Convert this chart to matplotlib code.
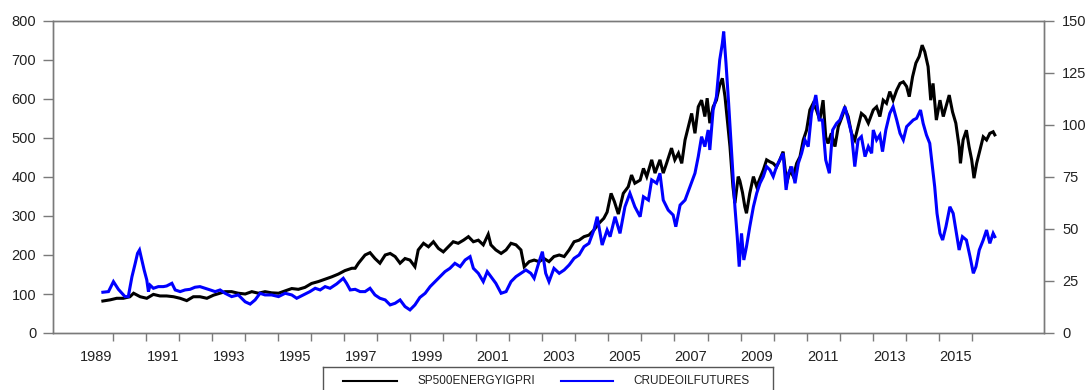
import matplotlib.pyplot as plt
import numpy as np

plt.rcParams['font.family'] = ['Liberation Sans', 'DejaVu Sans']

# S&P 500 Energy price index (left axis)
energy_t = [1989.69, 1989.91, 1990.11, 1990.31, 1990.51, 1990.62, 1990.82, 1991.02, 1991.22, 1991.42,
            1991.62, 1991.83, 1992.03, 1992.23, 1992.43, 1992.63, 1992.84, 1993.04, 1993.24, 1993.39,
            1993.59, 1993.79, 1994.00, 1994.20, 1994.40, 1994.60, 1994.80, 1995.01, 1995.21, 1995.41,
            1995.61, 1995.81, 1996.01, 1996.22, 1996.42, 1996.62, 1996.82, 1997.02, 1997.23, 1997.33,
            1997.43, 1997.63, 1997.78, 1997.93, 1998.08, 1998.24, 1998.39, 1998.54, 1998.69, 1998.84,
            1998.99, 1999.14, 1999.24, 1999.40, 1999.55, 1999.70, 1999.85, 2000.00, 2000.15, 2000.30,
            2000.45, 2000.61, 2000.76, 2000.91, 2001.06, 2001.21, 2001.36, 2001.44, 2001.59, 2001.75,
            2001.90, 2002.05, 2002.20, 2002.35, 2002.45, 2002.60, 2002.75, 2002.90, 2003.05, 2003.20,
            2003.35, 2003.51, 2003.66, 2003.81, 2003.96, 2004.11, 2004.26, 2004.41, 2004.56, 2004.71,
            2004.86, 2004.96, 2005.08, 2005.18, 2005.30, 2005.45, 2005.60, 2005.70, 2005.80, 2005.96,
            2006.06, 2006.16, 2006.31, 2006.41, 2006.56, 2006.66, 2006.76, 2006.91, 2007.01, 2007.12,
            2007.22, 2007.32, 2007.42, 2007.52, 2007.62, 2007.72, 2007.82, 2007.92, 2007.99, 2008.07,
            2008.17, 2008.27, 2008.37, 2008.45, 2008.53, 2008.61, 2008.68, 2008.77, 2008.83, 2008.93,
            2008.98, 2009.06, 2009.13, 2009.18, 2009.28, 2009.39, 2009.49, 2009.59, 2009.69, 2009.79,
            2009.89, 2009.99, 2010.09, 2010.19, 2010.29, 2010.40, 2010.50, 2010.60, 2010.70, 2010.80,
            2010.90, 2011.00, 2011.10, 2011.20, 2011.30, 2011.40, 2011.50, 2011.58, 2011.65, 2011.75,
            2011.86, 2011.96, 2012.06, 2012.16, 2012.26, 2012.36, 2012.46, 2012.56, 2012.66, 2012.77,
            2012.87, 2013.02, 2013.12, 2013.22, 2013.32, 2013.42, 2013.52, 2013.62, 2013.73, 2013.83,
            2013.93, 2014.03, 2014.11, 2014.21, 2014.31, 2014.41, 2014.50, 2014.58, 2014.68, 2014.76,
            2014.83, 2014.93, 2015.04, 2015.14, 2015.22, 2015.32, 2015.42, 2015.52, 2015.62, 2015.66,
            2015.74, 2015.84, 2015.92, 2016.00, 2016.07, 2016.15, 2016.25, 2016.35, 2016.45, 2016.55,
            2016.65, 2016.70]
energy = [82, 85, 89, 89, 93, 102, 93, 89, 99, 95,
          95, 93, 89, 83, 93, 93, 89, 97, 102, 106,
          106, 102, 100, 106, 102, 106, 103, 102, 108, 114,
          112, 117, 127, 132, 138, 144, 151, 160, 166, 166,
          179, 200, 206, 191, 179, 200, 204, 196, 179, 191,
          187, 170, 213, 230, 221, 234, 217, 208, 221, 234,
          230, 238, 247, 234, 238, 226, 253, 226, 213, 204,
          213, 230, 226, 213, 170, 183, 187, 183, 191, 183,
          196, 200, 196, 213, 234, 238, 247, 251, 264, 281,
          294, 310, 358, 337, 305, 358, 375, 405, 384, 392,
          422, 401, 444, 410, 444, 410, 435, 474, 444, 461,
          435, 495, 529, 563, 512, 580, 597, 555, 602, 538,
          580, 597, 636, 653, 606, 538, 478, 375, 333, 401,
          390, 360, 324, 307, 358, 401, 375, 397, 418, 444,
          439, 435, 426, 444, 465, 384, 418, 401, 435, 452,
          495, 520, 572, 589, 572, 546, 597, 503, 486, 512,
          478, 529, 551, 576, 555, 512, 495, 529, 563, 555,
          538, 572, 580, 555, 597, 589, 619, 597, 623, 640,
          644, 632, 606, 657, 692, 709, 738, 721, 683, 597,
          640, 546, 597, 555, 580, 610, 567, 538, 478, 435,
          495, 520, 478, 444, 397, 435, 469, 503, 495, 512,
          516, 508]

# crude oil futures price (right axis)
crude_t = [1989.69, 1989.86, 1990.01, 1990.16, 1990.36, 1990.46, 1990.57, 1990.67, 1990.74, 1990.80,
           1990.87, 1990.94, 1991.02, 1991.07, 1991.12, 1991.22, 1991.37, 1991.52, 1991.62, 1991.78,
           1991.88, 1992.03, 1992.18, 1992.33, 1992.48, 1992.63, 1992.79, 1992.94, 1993.09, 1993.24,
           1993.39, 1993.59, 1993.79, 1994.00, 1994.15, 1994.30, 1994.45, 1994.60, 1994.80, 1995.01,
           1995.21, 1995.41, 1995.56, 1995.76, 1995.96, 1996.12, 1996.27, 1996.42, 1996.57, 1996.77,
           1996.97, 1997.07, 1997.18, 1997.33, 1997.48, 1997.63, 1997.78, 1997.93, 1998.08, 1998.24,
           1998.39, 1998.54, 1998.69, 1998.84, 1998.99, 1999.14, 1999.29, 1999.45, 1999.60, 1999.75,
           1999.90, 2000.05, 2000.20, 2000.35, 2000.51, 2000.66, 2000.81, 2000.91, 2001.06, 2001.21,
           2001.33, 2001.44, 2001.59, 2001.75, 2001.90, 2002.05, 2002.20, 2002.35, 2002.50, 2002.65,
           2002.75, 2002.90, 2003.00, 2003.10, 2003.20, 2003.35, 2003.51, 2003.66, 2003.81, 2003.96,
           2004.11, 2004.26, 2004.41, 2004.56, 2004.66, 2004.81, 2004.96, 2005.05, 2005.20, 2005.35,
           2005.50, 2005.65, 2005.80, 2005.96, 2006.06, 2006.21, 2006.31, 2006.46, 2006.56, 2006.66,
           2006.81, 2006.96, 2007.04, 2007.17, 2007.32, 2007.47, 2007.62, 2007.72, 2007.82, 2007.92,
           2008.02, 2008.07, 2008.17, 2008.27, 2008.37, 2008.45, 2008.49, 2008.56, 2008.64, 2008.72,
           2008.83, 2008.90, 2008.96, 2009.03, 2009.10, 2009.18, 2009.28, 2009.39, 2009.49, 2009.59,
           2009.69, 2009.79, 2009.89, 2009.99, 2010.09, 2010.19, 2010.29, 2010.38, 2010.45, 2010.55,
           2010.65, 2010.75, 2010.85, 2010.95, 2011.05, 2011.15, 2011.28, 2011.38, 2011.48, 2011.58,
           2011.69, 2011.79, 2011.91, 2012.01, 2012.16, 2012.26, 2012.36, 2012.46, 2012.56, 2012.66,
           2012.77, 2012.87, 2012.97, 2013.02, 2013.12, 2013.22, 2013.30, 2013.40, 2013.52, 2013.62,
           2013.73, 2013.83, 2013.93, 2014.03, 2014.13, 2014.23, 2014.33, 2014.45, 2014.53, 2014.63,
           2014.73, 2014.81, 2014.88, 2014.95, 2015.04, 2015.12, 2015.22, 2015.34, 2015.44, 2015.54,
           2015.62, 2015.72, 2015.84, 2015.95, 2016.05, 2016.13, 2016.23, 2016.35, 2016.45, 2016.55,
           2016.65, 2016.70]
crude = [19.6, 19.9, 24.7, 21.0, 17.5, 17.5, 27.0, 33.5, 38.3, 39.9,
         35.0, 30.3, 25.5, 19.9, 23.0, 21.5, 22.3, 22.3, 22.6, 23.9,
         20.7, 19.9, 20.7, 21.0, 22.0, 22.3, 21.5, 20.7, 19.9, 20.7,
         19.1, 17.5, 18.3, 15.0, 13.9, 15.9, 19.1, 18.3, 18.3, 17.5,
         19.1, 18.3, 16.7, 18.3, 19.9, 21.5, 20.7, 22.3, 21.5, 23.6,
         26.3, 23.9, 20.7, 21.0, 19.9, 19.9, 21.5, 18.3, 16.7, 15.9,
         13.5, 14.3, 15.9, 12.7, 11.1, 13.5, 17.1, 19.1, 22.3, 24.7,
         27.1, 29.5, 31.1, 33.5, 31.9, 35.1, 36.7, 31.1, 28.7, 24.7,
         29.5, 27.1, 23.9, 19.1, 19.9, 24.7, 27.1, 28.7, 30.3, 28.7,
         26.3, 34.3, 39.1, 28.7, 24.7, 31.1, 28.7, 30.3, 32.7, 35.9,
         37.5, 41.5, 43.1, 49.5, 55.9, 42.3, 49.5, 46.3, 55.9, 47.9,
         60.7, 67.2, 60.7, 55.9, 65.5, 63.9, 73.6, 72.0, 76.8, 63.9,
         59.1, 56.7, 51.1, 61.5, 63.9, 70.3, 76.8, 84.8, 94.4, 89.6,
         97.6, 88.0, 107.2, 113.6, 131.3, 139.3, 144.9, 129.7, 110.4, 89.6,
         60.7, 46.3, 31.9, 47.9, 35.1, 41.5, 51.1, 60.7, 67.2, 72.0,
         75.2, 80.0, 78.4, 75.2, 80.0, 83.2, 86.4, 68.8, 76.8, 80.0,
         72.0, 81.6, 86.4, 92.8, 89.6, 105.6, 114.4, 102.4, 102.4, 83.2,
         76.8, 97.6, 100.8, 102.4, 108.8, 102.4, 96.0, 80.0, 92.8, 94.4,
         84.8, 89.6, 86.4, 97.6, 92.8, 95.2, 87.2, 97.6, 105.6, 108.8,
         102.4, 96.0, 92.8, 99.2, 100.8, 102.4, 103.2, 107.2, 100.8, 95.2,
         91.2, 80.0, 70.3, 57.5, 47.9, 44.7, 51.1, 60.7, 57.5, 47.9,
         39.9, 46.3, 44.7, 36.7, 28.7, 31.9, 39.9, 44.7, 49.5, 43.1,
         47.9, 46.3]

year_labels = list(range(1989, 2016, 2))
year_ticks = list(range(1990, 2017))

spine_col = '#7a7a7a'
text_col = '#222222'

fig = plt.figure(figsize=(10.89, 3.90), dpi=100)
ax = fig.add_axes([53 / 1089, 1 - 333 / 390, 991 / 1089, 312 / 390])
ax2 = ax.twinx()

ax.plot(energy_t, energy, color='black', lw=2.2, solid_joinstyle='miter')
ax2.plot(crude_t, crude, color='#0000ff', lw=2.2, solid_joinstyle='miter')

ax.set_xlim(1988.18, 2018.19)
ax.set_ylim(0, 800)
ax2.set_ylim(0, 150)
ax.set_yticks(np.arange(0, 801, 100))
ax2.set_yticks(np.arange(0, 151, 25))

# year labels sit in the middle of each year, tick marks on the year boundaries
ax.set_xticks([y + 0.5 for y in year_labels], [str(y) for y in year_labels])
ax.set_xticks(year_ticks, minor=True)
ax.tick_params(axis='x', which='major', length=0, pad=12, labelsize=10.5, labelcolor=text_col)
ax.tick_params(axis='x', which='minor', length=6, width=1, color=spine_col, direction='out')
ax.tick_params(axis='y', length=7, width=1, color=spine_col, pad=5, labelsize=10.5, labelcolor=text_col)
ax2.tick_params(axis='y', length=7, width=1, color=spine_col, pad=6, labelsize=10.5, labelcolor=text_col)

for a in (ax, ax2):
    for s in a.spines.values():
        s.set_color(spine_col)
        s.set_linewidth(1.0)

# legend strip below the plot, open at the bottom edge
lax = fig.add_axes([323 / 1089, 0, 450 / 1089, 23 / 390])
lax.set_xlim(0, 450)
lax.set_ylim(0, 23)
lax.set_xticks([])
lax.set_yticks([])
lax.spines['bottom'].set_visible(False)
for s in ('top', 'left', 'right'):
    lax.spines[s].set_color('#555555')
    lax.spines[s].set_linewidth(1.0)
lax.plot([20, 74], [9, 9], color='black', lw=1.5)
lax.text(94, 9, 'SP500ENERGYIGPRI', fontsize=8.5, va='center', ha='left', color=text_col)
lax.plot([238, 290], [9, 9], color='#0000ff', lw=1.5)
lax.text(310, 9, 'CRUDEOILFUTURES', fontsize=8.5, va='center', ha='left', color=text_col)

fig.savefig('out.png', dpi=100)
